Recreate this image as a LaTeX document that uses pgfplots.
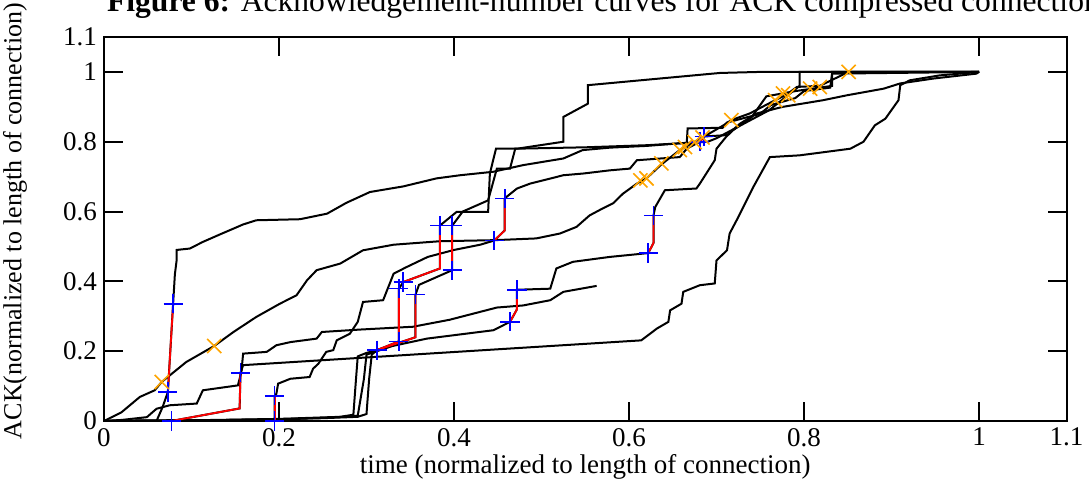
\documentclass[border=0pt]{standalone}
\usepackage{fontspec}
\setmainfont{Liberation Serif}
\usepackage{pgfplots}
\pgfplotsset{compat=1.18}
\definecolor{xorange}{RGB}{255,165,0}
\begin{document}
\begin{tikzpicture}
\path[use as bounding box] (-52pt,-33.5pt) rectangle (492.5pt,210.5pt);
\begin{axis}[
  at={(0pt,0pt)}, anchor=south west,
  scale only axis, width=481.25pt, height=192pt,
  xmin=0, xmax=1.1, ymin=0, ymax=1.1,
  xtick={0,0.2,0.4,0.6,0.8,1,1.1}, xticklabels={0,0.2,0.4,0.6,0.8,1,1.1},
  ytick={0,0.2,0.4,0.6,0.8,1,1.1}, yticklabels={0,0.2,0.4,0.6,0.8,1,1.1},
  xtick pos=both, ytick pos=both, tick align=inside, major tick length=9.5pt,
  axis line style={line width=1pt}, tick style={line width=1pt, black},
  ticklabel style={font=\fontsize{13.5}{15}\selectfont},
  conn/.style={black, line width=1pt, mark=none},
  run/.style={red, line width=0.9pt, mark=none},
]
% connections (black)
\addplot[conn] coordinates {(0.06,0) (0.067,0.04) (0.073,0.083) (0.079,0.336) (0.081,0.42) (0.083,0.46) (0.083,0.49) (0.098,0.494) (0.113,0.513) (0.133,0.535) (0.159,0.563) (0.174,0.575) (0.224,0.578) (0.255,0.594) (0.277,0.625) (0.304,0.656) (0.342,0.672) (0.380,0.695) (0.407,0.704) (0.445,0.714) (0.479,0.733) (0.525,0.752) (0.547,0.776) (0.578,0.783) (0.62,0.788) (0.666,0.797) (0.667,0.838) (0.707,0.84) (0.712,0.855) (0.75,0.88) (0.762,0.905) (0.79,0.925) (0.80,0.945) (0.83,0.955) (0.832,0.995) (1,1)};
\addplot[conn] coordinates {(0,0) (0.02,0.025) (0.041,0.069) (0.058,0.088) (0.066,0.112) (0.094,0.169) (0.126,0.215) (0.148,0.255) (0.174,0.298) (0.201,0.336) (0.22,0.36) (0.232,0.403) (0.243,0.432) (0.27,0.451) (0.296,0.489) (0.331,0.505) (0.384,0.515) (0.446,0.518) (0.494,0.523) (0.521,0.537) (0.540,0.556) (0.555,0.589) (0.570,0.609) (0.582,0.624) (0.593,0.651) (0.609,0.68) (0.62,0.695) (0.637,0.735) (0.658,0.776) (0.675,0.80) (0.684,0.812) (0.708,0.847) (0.717,0.862) (0.738,0.881) (0.767,0.919) (0.78,0.935) (0.792,0.957) (0.818,0.96) (0.851,1.0) (1,1)};
\addplot[conn] coordinates {(0,0) (0.1,0.002) (0.195,0) (0.195,0.072) (0.197,0.078) (0.199,0.107) (0.213,0.121) (0.235,0.126) (0.239,0.15) (0.245,0.164) (0.254,0.198) (0.262,0.203) (0.266,0.231) (0.281,0.25) (0.29,0.284) (0.296,0.341) (0.319,0.346) (0.331,0.422) (0.345,0.44) (0.37,0.47) (0.40,0.49) (0.43,0.505) (0.446,0.517) (0.458,0.546) (0.458,0.637) (0.46,0.642) (0.472,0.666) (0.487,0.68) (0.525,0.704) (0.548,0.709) (0.578,0.718) (0.601,0.723) (0.609,0.747) (0.658,0.756) (0.666,0.78) (0.681,0.80) (0.686,0.815) (0.712,0.819) (0.727,0.852) (0.746,0.881) (0.776,0.90) (0.822,0.919) (0.849,0.933) (0.891,0.952) (0.91,0.967) (0.948,0.981) (0.997,0.995) (1,1)};
\addplot[conn] coordinates {(0,0) (0.077,0) (0.155,0.036) (0.156,0.138) (0.159,0.16) (0.614,0.231) (0.632,0.265) (0.645,0.284) (0.647,0.317) (0.66,0.336) (0.662,0.37) (0.681,0.389) (0.698,0.394) (0.70,0.46) (0.712,0.489) (0.715,0.537) (0.723,0.575) (0.742,0.67) (0.761,0.756) (0.795,0.761) (0.853,0.78) (0.868,0.80) (0.881,0.847) (0.893,0.866) (0.908,0.919) (0.91,0.962) (0.921,0.976) (0.955,0.99) (1,1)};
\addplot[conn] coordinates {(0,0) (0.02,0.003) (0.049,0.011) (0.06,0.035) (0.075,0.045) (0.106,0.05) (0.113,0.088) (0.153,0.102) (0.157,0.14) (0.159,0.193) (0.186,0.198) (0.197,0.217) (0.213,0.226) (0.243,0.236) (0.249,0.255) (0.293,0.262) (0.353,0.27) (0.395,0.29) (0.449,0.325) (0.479,0.331) (0.51,0.346) (0.525,0.37) (0.563,0.387)};
\addplot[conn] coordinates {(0,0) (0.1,0.002) (0.2,0.006) (0.27,0.012) (0.285,0.018) (0.288,0.12) (0.29,0.185) (0.30,0.195) (0.312,0.203) (0.337,0.228) (0.337,0.379) (0.342,0.398) (0.384,0.437) (0.384,0.56) (0.403,0.599) (0.439,0.599) (0.441,0.709) (0.448,0.78) (0.472,0.78) (0.525,0.80) (0.525,0.871) (0.553,0.909) (0.553,0.962) (0.704,0.997) (0.75,1.0) (1,1)};
\addplot[conn] coordinates {(0,0) (0.15,0.003) (0.25,0.008) (0.29,0.012) (0.30,0.02) (0.303,0.12) (0.306,0.19) (0.312,0.203) (0.356,0.24) (0.356,0.362) (0.36,0.39) (0.398,0.432) (0.398,0.56) (0.41,0.6) (0.439,0.632) (0.449,0.723) (0.464,0.723) (0.47,0.78) (0.55,0.784) (0.62,0.79) (0.69,0.80) (0.70,0.81) (0.73,0.85) (0.76,0.89) (0.78,0.93) (0.795,0.96) (0.795,1.0) (1,1)};
\addplot[conn] coordinates {(0,0) (0.1,0.002) (0.2,0.004) (0.26,0.01) (0.29,0.015) (0.297,0.12) (0.30,0.19) (0.33,0.215) (0.369,0.236) (0.445,0.26) (0.464,0.284) (0.472,0.32) (0.472,0.376) (0.51,0.379) (0.517,0.437) (0.536,0.456) (0.578,0.47) (0.622,0.481) (0.628,0.51) (0.628,0.589) (0.63,0.613) (0.641,0.661) (0.677,0.666) (0.681,0.68) (0.698,0.747) (0.70,0.78) (0.711,0.814) (0.719,0.833) (0.74,0.87) (0.757,0.93) (0.79,0.945) (0.832,0.96) (0.832,1.0) (1,1)};
% compressed ACK runs (red)
\addplot[run] coordinates {(0.073,0.083) (0.079,0.336)};
\addplot[run] coordinates {(0.077,0) (0.155,0.036) (0.156,0.138)};
\addplot[run] coordinates {(0.195,0) (0.195,0.072)};
\addplot[run] coordinates {(0.312,0.203) (0.337,0.228) (0.337,0.379)};
\addplot[run] coordinates {(0.312,0.203) (0.356,0.24) (0.356,0.362)};
\addplot[run] coordinates {(0.342,0.398) (0.384,0.437) (0.384,0.56)};
\addplot[run] coordinates {(0.398,0.432) (0.398,0.56)};
\addplot[run] coordinates {(0.446,0.517) (0.458,0.546) (0.458,0.637)};
\addplot[run] coordinates {(0.464,0.284) (0.472,0.32) (0.472,0.376)};
\addplot[run] coordinates {(0.622,0.481) (0.628,0.51) (0.628,0.589)};
\addplot[run] coordinates {(0.681,0.80) (0.686,0.815)};
% run end points
\addplot[only marks, mark=+, mark size=4.8pt, draw=blue, mark options={blue, line width=0.8pt}] coordinates {(0.073,0.083) (0.079,0.336) (0.077,0) (0.156,0.138) (0.195,0) (0.195,0.072) (0.312,0.203) (0.337,0.228) (0.337,0.379) (0.356,0.362) (0.342,0.398) (0.384,0.56) (0.398,0.432) (0.398,0.56) (0.446,0.517) (0.458,0.637) (0.464,0.284) (0.472,0.376) (0.622,0.481) (0.628,0.589) (0.681,0.80) (0.686,0.815)};
\addplot[only marks, mark=x, mark size=5pt, draw=xorange, mark options={xorange, line width=0.8pt}] coordinates {(0.066,0.112) (0.126,0.215) (0.613,0.689) (0.620,0.695) (0.637,0.738) (0.658,0.776) (0.664,0.785) (0.675,0.799) (0.684,0.812) (0.717,0.862) (0.767,0.919) (0.776,0.938) (0.782,0.933) (0.807,0.952) (0.818,0.957) (0.851,1.0)};
\end{axis}
\node[anchor=base west, font=\fontsize{15.8}{18}\selectfont] at (-2pt,204.5pt) {\textbf{Figure 6:} Acknowledgement-number curves for ACK compressed connections};
\node[rotate=90, font=\fontsize{13}{15}\selectfont] at (-44.5pt,100pt) {ACK(normalized to length of connection)};
\node[font=\fontsize{13.5}{15}\selectfont] at (240.6pt,-23pt) {time (normalized to length of connection)};
\end{tikzpicture}
\end{document}
